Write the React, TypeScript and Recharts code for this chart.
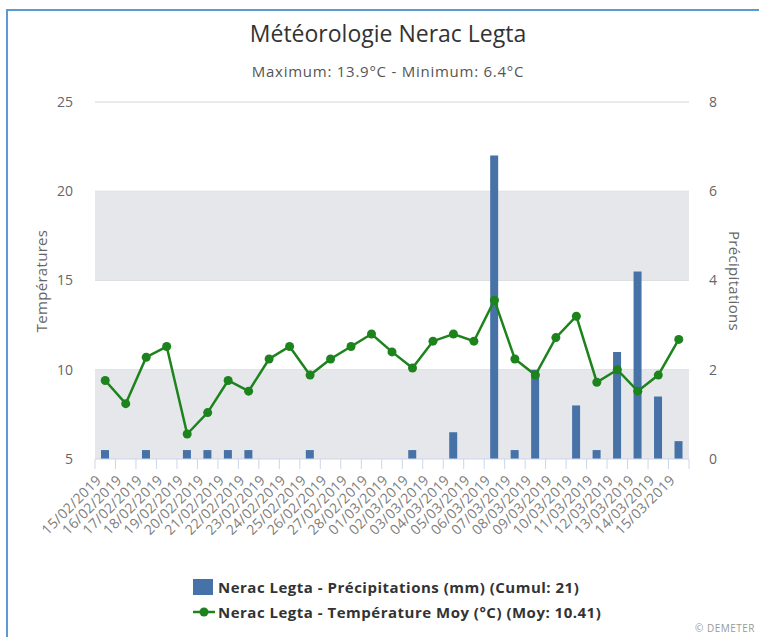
import React from 'react';
import { ComposedChart, Bar, Line, XAxis, YAxis, CartesianGrid, ReferenceArea } from 'recharts';

const dates = [
  '15/02/2019', '16/02/2019', '17/02/2019', '18/02/2019', '19/02/2019', '20/02/2019', '21/02/2019',
  '22/02/2019', '23/02/2019', '24/02/2019', '25/02/2019', '26/02/2019', '27/02/2019', '28/02/2019',
  '01/03/2019', '02/03/2019', '03/03/2019', '04/03/2019', '05/03/2019', '06/03/2019', '07/03/2019',
  '08/03/2019', '09/03/2019', '10/03/2019', '11/03/2019', '12/03/2019', '13/03/2019', '14/03/2019',
  '15/03/2019',
];
const precipitations = [
  0.2, 0, 0.2, 0, 0.2, 0.2, 0.2, 0.2, 0, 0, 0.2, 0, 0, 0, 0, 0.2, 0, 0.6, 0, 6.8, 0.2, 2.0, 0, 1.2, 0.2,
  2.4, 4.2, 1.4, 0.4,
];
const temperatures = [
  9.4, 8.1, 10.7, 11.3, 6.4, 7.6, 9.4, 8.8, 10.6, 11.3, 9.7, 10.6, 11.3, 12.0, 11.0, 10.1, 11.6, 12.0,
  11.6, 13.9, 10.6, 9.7, 11.8, 13.0, 9.3, 10.0, 8.8, 9.7, 11.7,
];
const tempTicks = [5, 10, 15, 20, 25];
const precTicks = [0, 2, 4, 6, 8];
const grayBands: [number, number][] = [[5, 10], [15, 20]];

const data = dates.map((d, i) => ({ date: d, prec: precipitations[i], temp: temperatures[i] }));

const W = 759;
const H = 637;
const PLOT_LEFT = 95;
const PLOT_RIGHT = 689;
const PLOT_TOP = 102;
const PLOT_BOTTOM = 459;
const BAND = (PLOT_RIGHT - PLOT_LEFT) / dates.length;

const FONT = '"Open Sans", "DejaVu Sans", sans-serif';
const BAR_COLOR = '#4672a8';
const LINE_COLOR = '#1d831d';
const AXIS_COLOR = '#ccd6eb';
const LABEL_COLOR = '#666666';

function DateTick(props: any) {
  const { x, y, payload, index } = props;
  const lx = x - 3;
  const ly = y + 22;
  return (
    <g>
      <line x1={x - BAND / 2} x2={x - BAND / 2} y1={y} y2={y + 10} stroke={AXIS_COLOR} strokeWidth={1} />
      {index === dates.length - 1 && (
        <line x1={x + BAND / 2} x2={x + BAND / 2} y1={y} y2={y + 10} stroke={AXIS_COLOR} strokeWidth={1} />
      )}
      <text
        x={lx}
        y={ly}
        textAnchor="end"
        transform={`rotate(-45 ${lx} ${ly})`}
        fontSize={14}
        letterSpacing={0.3}
        fill="#7c7c7c"
        fontFamily={FONT}
      >
        {payload.value}
      </text>
    </g>
  );
}

export default function App() {
  return (
    <div style={{ position: 'absolute', left: 0, top: 0, width: W, height: H, background: '#fff', fontFamily: FONT, overflow: 'hidden' }}>
      <div style={{ position: 'absolute', left: 6, top: 9, width: 800, height: 700, borderLeft: '2px solid #5b9bd5', borderTop: '2px solid #5b9bd5' }} />
      <div style={{ position: 'absolute', left: 0, top: 17, width: 776, textAlign: 'center', fontSize: 23, color: '#333333', whiteSpace: 'nowrap' }}>
        Météorologie Nerac Legta
      </div>
      <div style={{ position: 'absolute', left: 0, top: 61, width: 776, textAlign: 'center', fontSize: 15, letterSpacing: 0.75, color: '#555555', whiteSpace: 'nowrap' }}>
        Maximum: 13.9°C - Minimum: 6.4°C
      </div>
      <div style={{ position: 'absolute', left: 0, top: 0 }}>
        <ComposedChart
          width={W}
          height={H}
          data={data}
          margin={{ top: PLOT_TOP, right: 0, bottom: 0, left: 0 }}
          barCategoryGap={0}
        >
          {grayBands.map(([a, b]) => (
            <ReferenceArea key={a} yAxisId="left" y1={a} y2={b} fill="#e6e7ea" fillOpacity={1} stroke="none" />
          ))}
          <CartesianGrid yAxisId="left" vertical={false} stroke="#d6d6d6" horizontalValues={tempTicks.slice(1)} fill="none" />
          <XAxis
            dataKey="date"
            interval={0}
            height={H - PLOT_BOTTOM}
            tickSize={0}
            tickMargin={0}
            tickLine={false}
            axisLine={{ stroke: AXIS_COLOR }}
            tick={<DateTick />}
          />
          <YAxis
            yAxisId="left"
            orientation="left"
            width={PLOT_LEFT}
            domain={[5, 25]}
            ticks={tempTicks}
            interval={0}
            axisLine={false}
            tickLine={false}
            tickSize={0}
            tickMargin={22}
            tick={{ fill: LABEL_COLOR, fontSize: 14, fontFamily: FONT }}
          />
          <YAxis
            yAxisId="right"
            orientation="right"
            width={W - PLOT_RIGHT}
            domain={[0, 8]}
            ticks={precTicks}
            interval={0}
            axisLine={false}
            tickLine={false}
            tickSize={0}
            tickMargin={20}
            tick={{ fill: LABEL_COLOR, fontSize: 14, fontFamily: FONT, textAnchor: 'start' }}
          />
          <Bar yAxisId="right" dataKey="prec" fill={BAR_COLOR} barSize={8} isAnimationActive={false} />
          <Line
            yAxisId="left"
            dataKey="temp"
            stroke={LINE_COLOR}
            strokeWidth={2.5}
            dot={{ r: 4.5, fill: LINE_COLOR, stroke: LINE_COLOR, strokeWidth: 0 }}
            activeDot={false}
            isAnimationActive={false}
          />
        </ComposedChart>
      </div>
      <div style={{ position: 'absolute', left: 41, top: 281, transform: 'translate(-50%, -50%) rotate(-90deg)', fontSize: 15, letterSpacing: 0.3, color: LABEL_COLOR, whiteSpace: 'nowrap' }}>
        Températures
      </div>
      <div style={{ position: 'absolute', left: 735, top: 281, transform: 'translate(-50%, -50%) rotate(90deg)', fontSize: 15, letterSpacing: 0.3, color: LABEL_COLOR, whiteSpace: 'nowrap' }}>
        Précipitations
      </div>
      <div style={{ position: 'absolute', left: 193, top: 577, fontSize: 15, letterSpacing: 0.5, fontWeight: 'bold', color: '#333333', whiteSpace: 'nowrap' }}>
        <div style={{ display: 'flex', alignItems: 'center', height: 20 }}>
          <svg width={22} height={20} style={{ marginRight: 3 }}>
            <rect x={0} y={2} width={20} height={16} fill={BAR_COLOR} />
          </svg>
          <span>Nerac Legta - Précipitations (mm) (Cumul: 21)</span>
        </div>
        <div style={{ display: 'flex', alignItems: 'center', height: 20, marginTop: 5 }}>
          <svg width={22} height={20} style={{ marginRight: 3 }}>
            <line x1={0} y1={10} x2={22} y2={10} stroke={LINE_COLOR} strokeWidth={2.5} />
            <circle cx={11} cy={10} r={4.5} fill={LINE_COLOR} />
          </svg>
          <span>Nerac Legta - Température Moy (°C) (Moy: 10.41)</span>
        </div>
      </div>
      <div style={{ position: 'absolute', right: 4, top: 622, fontSize: 10, lineHeight: '12px', letterSpacing: 0.5, color: '#999999', whiteSpace: 'nowrap' }}>
        © DEMETER
      </div>
    </div>
  );
}
